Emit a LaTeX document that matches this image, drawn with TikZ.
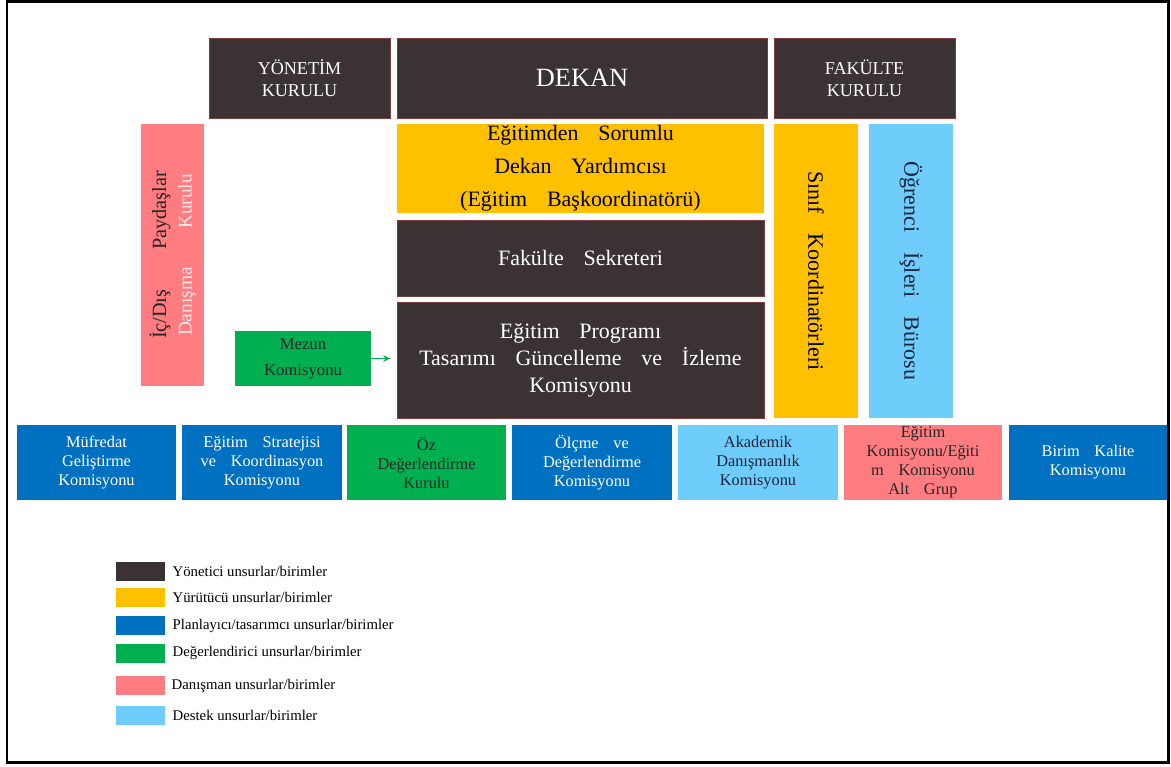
\documentclass[tikz,border=0pt]{standalone}
\usepackage{fontspec}
\setmainfont{Liberation Serif}
\usetikzlibrary{arrows,positioning}

\definecolor{yonetici}{RGB}{58,50,51}
\definecolor{yurutucu}{RGB}{255,192,0}
\definecolor{planlayici}{RGB}{0,112,192}
\definecolor{degerlendirici}{RGB}{0,176,80}
\definecolor{danisman}{RGB}{255,124,128}
\definecolor{destek}{RGB}{110,205,250}
\definecolor{kenar}{RGB}{130,60,60}
\definecolor{lacivert}{RGB}{25,35,60}

\newcommand{\wg}{\hspace{0.9em}}
\newcommand{\fs}[2]{\fontsize{#1}{#2}\selectfont}

\tikzset{
  sz/.style 2 args={minimum width=#1*0.02cm, minimum height=#2*0.02cm},
  unit/.style={inner sep=0pt, outer sep=0pt, align=center},
  yon/.style={unit, fill=yonetici, draw=kenar, line width=0.4pt, text=white},
  yur/.style={unit, fill=yurutucu, text=black},
  plan/.style={unit, fill=planlayici, text=white, font=\fs{9.3}{10.8}},
  deg/.style={unit, fill=degerlendirici, text=black!85},
  dan/.style={unit, fill=danisman, text=black!85},
  des/.style={unit, fill=destek, text=lacivert},
  swatch/.style={minimum width=0.98cm, minimum height=0.38cm, inner sep=0pt},
  legtext/.style={inner sep=0pt, font=\fs{8.4}{10}}
}

\begin{document}
\begin{tikzpicture}[x=0.02cm,y=-0.02cm]
\useasboundingbox (0,0) rectangle (1171,767);
\draw[line width=0.06cm] (7,2) rectangle (1168,762);

% ust sira
\node[yon, sz={181}{80}, font=\fs{10.3}{12.5}] (yk) at (299.5,78) {YÖNETİM\\KURULU};
\node[yon, sz={370}{80}, font=\fs{15}{18}] (dekan) at (582,78) {DEKAN};
\node[yon, sz={181}{80}, font=\fs{10.3}{12.5}] (fk) at (864.5,78) {FAKÜLTE\\KURULU};

% orta blok
\node[yur, sz={367}{89}, font=\fs{12.5}{18.8}] (edy) at (580.5,168.5)
  {Eğitimden\wg Sorumlu\\Dekan\wg Yardımcısı\\(Eğitim\wg Başkoordinatörü)};
\node[yon, sz={367}{76}, font=\fs{12.5}{15}] (fs) at (580.5,258) {Fakülte\wg Sekreteri};
\node[yon, sz={367}{116}, font=\fs{12.5}{15.3}] (epk) at (580.5,360)
  {Eğitim\wg Programı\\Tasarımı\wg Güncelleme\wg ve\wg İzleme\\Komisyonu};

% dikey kutular
\node[yur, sz={294}{84}, rotate=-90, font=\fs{12.5}{15}] (sk) at (816,271) {Sınıf\wg Koordinatörleri};
\node[des, sz={294}{84}, rotate=-90, font=\fs{12.5}{15}] (oib) at (911,271) {Öğrenci\wg İşleri\wg Bürosu};
\node[dan, sz={262}{63}, rotate=90, font=\fs{11.5}{14.5}] (ic) at (172.5,255)
  {\hbox to 3.36cm{İç/Dış\hfill Paydaşlar}\\
   {\fs{11}{14.5}\color{white!85!danisman}\hbox to 3.24cm{Danışma\hfill Kurulu}}};

\node[deg, sz={136}{55}, font=\fs{9.5}{14.8}] (mezun) at (303,358.5) {Mezun\\Komisyonu};
\draw[-stealth, degerlendirici, line width=0.7pt, shorten >=0.14cm] (mezun.east) -- (mezun.east -| epk.west);

% alt sira
\node[plan, sz={159}{75}] (mgk) at (96.5,462.5) {Müfredat\\Geliştirme\\Komisyonu};
\node[plan, sz={160}{75}] (esk) at (262,462.5) {Eğitim\wg Stratejisi\\ve\wg Koordinasyon\\Komisyonu};
\node[deg, sz={159}{75}, font=\fs{9.3}{10.8}] (odk) at (426.5,462.5) {Öz\\Değerlendirme\\Kurulu};
\node[plan, sz={160}{75}] (odek) at (592,462.5) {Ölçme\wg ve\\Değerlendirme\\Komisyonu};
\node[des, sz={160}{75}, font=\fs{9.3}{10.8}] (adk) at (758,462.5) {Akademik\\Danışmanlık\\Komisyonu};
\node[dan, sz={158}{75}, font=\fs{9.3}{10.8}] (ekag) at (923,462.5) {Eğitim\\Komisyonu/Eğiti\\m\wg Komisyonu\\Alt\wg Grup};
\node[plan, sz={158}{75}] (bkk) at (1088,462.5) {Birim\wg Kalite\\Komisyonu};

% lejant
\node[swatch, fill=yonetici] (l1) at (140.5,571.5) {};
\node[swatch, fill=yurutucu] (l2) at (140.5,597.5) {};
\node[swatch, fill=planlayici] (l3) at (140.5,625.5) {};
\node[swatch, fill=degerlendirici] (l4) at (140.5,653) {};
\node[swatch, fill=danisman] (l5) at (140.5,685.5) {};
\node[swatch, fill=destek] (l6) at (140.5,715) {};
\node[legtext, right=0.14cm of l1] (t1) {Yönetici unsurlar/birimler};
\node[legtext, right=0.14cm of l2] (t2) {Yürütücü unsurlar/birimler};
\node[legtext, right=0.14cm of l3] (t3) {Planlayıcı/tasarımcı unsurlar/birimler};
\node[legtext, right=0.14cm of l4] (t4) {Değerlendirici unsurlar/birimler};
\node[legtext, right=0.12cm of l5] (t5) {Danışman unsurlar/birimler};
\node[legtext, right=0.14cm of l6] (t6) {Destek unsurlar/birimler};
\end{tikzpicture}
\end{document}
